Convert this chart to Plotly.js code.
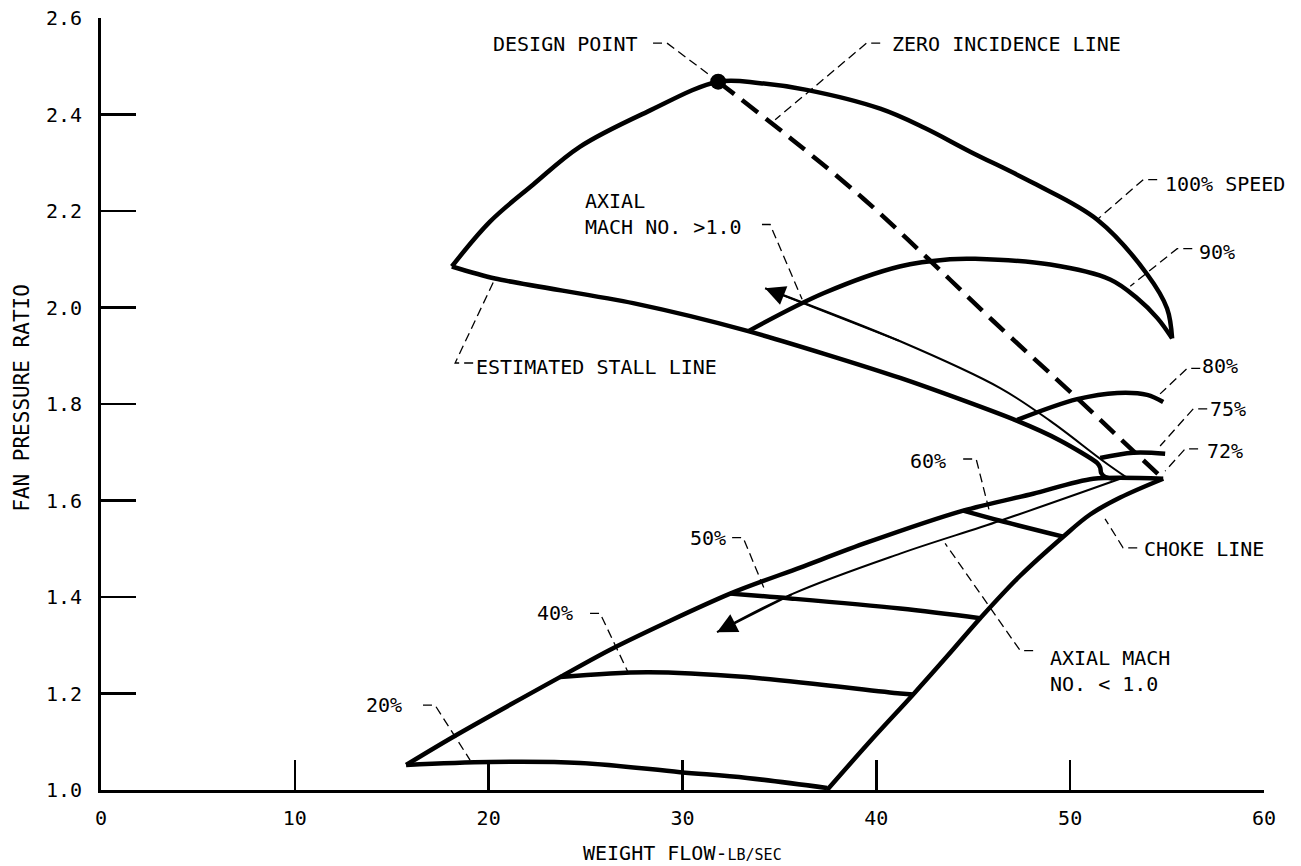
<!DOCTYPE html>
<html>
<head>
<meta charset="utf-8">
<script src="https://cdn.plot.ly/plotly-3.0.1.min.js"></script>
<style>html,body{margin:0;padding:0;background:#fff;}#chart{width:1301px;height:866px;}</style>
</head>
<body>
<div id="chart"></div>
<script>
// ---- Data (weight flow lb/sec, fan pressure ratio) ----
const speed100X = [18.1, 20.07, 22.3, 24.7, 28.2, 31.84, 34.0, 36.4, 40.2, 42.5, 44.84, 48.1, 51.4, 53.97, 55.0, 55.26];
const speed100Y = [2.085, 2.178, 2.255, 2.333, 2.406, 2.468, 2.465, 2.451, 2.412, 2.372, 2.323, 2.258, 2.182, 2.069, 1.998, 1.936];
const speed90X = [33.4, 37.3, 41.2, 43.8, 45.1, 48.97, 52.06, 53.46, 54.5, 55.26];
const speed90Y = [1.951, 2.03, 2.085, 2.10, 2.101, 2.089, 2.058, 2.019, 1.978, 1.936];
const speed80X = [47.27, 50.36, 52.43, 53.97, 54.8];
const speed80Y = [1.767, 1.81, 1.823, 1.819, 1.804];
const speed75X = [51.55, 53.25, 54.9];
const speed75Y = [1.688, 1.699, 1.697];
const stallHighX = [18.1, 20.33, 27.45, 33.39, 41.23, 47.27, 49.5, 51.39, 51.55, 51.6, 51.8, 52.2];
const stallHighY = [2.085, 2.06, 2.009, 1.951, 1.854, 1.765, 1.724, 1.678, 1.668, 1.657, 1.649, 1.645];
const stallLowX = [15.74, 18.16, 23.68, 26.42, 32.46, 36.07, 39.53, 44.48, 48.09, 51.19, 54.8];
const stallLowY = [1.052, 1.11, 1.234, 1.294, 1.407, 1.461, 1.513, 1.579, 1.614, 1.645, 1.645];
const chokeX = [54.8, 52.58, 51.03, 49.64, 47.42, 45.36, 43.65, 41.9, 39.68, 37.46];
const chokeY = [1.645, 1.606, 1.571, 1.525, 1.444, 1.356, 1.277, 1.198, 1.101, 1.0];
const speed60X = [44.48, 46.39, 49.64];
const speed60Y = [1.579, 1.558, 1.525];
const speed50X = [32.46, 35.56, 41.23, 45.36];
const speed50Y = [1.407, 1.397, 1.376, 1.356];
const speed40X = [23.68, 28.17, 33.3, 41.23, 41.9];
const speed40Y = [1.234, 1.244, 1.234, 1.2, 1.198];
const speed20X = [15.74, 20.07, 24.72, 29.88, 33.33, 37.46];
const speed20Y = [1.052, 1.058, 1.056, 1.037, 1.025, 1.004];
const zeroIncX = [31.84, 35.6, 39.32, 42.7, 46.03, 50.36, 53.25, 54.8];
const zeroIncY = [2.468, 2.35, 2.226, 2.1, 1.972, 1.812, 1.703, 1.645];
const machHighX = [52.94, 51.7, 48.97, 46.39, 41.23, 34.26];
const machHighY = [1.647, 1.682, 1.765, 1.833, 1.93, 2.04];
const machLowX = [52.58, 46.39, 41.23, 35.71, 31.78];
const machLowY = [1.645, 1.558, 1.49, 1.407, 1.327];
const designX = [31.84];
const designY = [2.468];
const tickX = [0, 10, 20, 30, 40, 50, 60];
const tickY = [1.0, 1.2, 1.4, 1.6, 1.8, 2.0, 2.2, 2.4, 2.6];
const tickYText = ['1.0', '1.2', '1.4', '1.6', '1.8', '2.0', '2.2', '2.4', '2.6'];

// leader lines (label -> curve)
const leadDesignX = [28.48, 29.2, 31.32], leadDesignY = [2.548, 2.548, 2.484];
const leadZeroX = [40.2, 39.5, 34.78], leadZeroY = [2.548, 2.548, 2.389];
const lead100X = [54.49, 53.77, 51.39], lead100Y = [2.265, 2.265, 2.182];
const lead90X = [56.3, 55.52, 53.1], lead90Y = [2.122, 2.122, 2.044];
const lead80X = [56.71, 56.04, 54.64], lead80Y = [1.874, 1.874, 1.821];
const lead75X = [57.07, 56.35, 54.64], lead75Y = [1.79, 1.79, 1.713];
const lead72X = [56.6, 55.93, 54.9], lead72Y = [1.707, 1.707, 1.661];
const leadChokeX = [53.46, 52.73, 51.8], leadChokeY = [1.502, 1.502, 1.562];
const leadMachLowX = [48.09, 47.42, 43.55], leadMachLowY = [1.289, 1.289, 1.511];
const leadMachHighX = [34.1, 34.52, 36.17], leadMachHighY = [2.172, 2.172, 2.017];
const leadStallX = [19.2, 18.27, 20.33], leadStallY = [1.885, 1.885, 2.06];
const lead60X = [44.48, 45.15, 45.85], lead60Y = [1.686, 1.686, 1.575];
const lead50X = [32.56, 33.13, 34.26], lead50Y = [1.523, 1.523, 1.413];
const lead40X = [25.23, 25.75, 27.19], lead40Y = [1.366, 1.366, 1.244];
const lead20X = [16.61, 17.23, 19.04], lead20Y = [1.176, 1.176, 1.062];

const FONT = 'DejaVu Sans Mono, Liberation Mono, monospace';
const thick = 4.5;

function line(x, y, w, dash, shape, smooth) {
  return {x: x, y: y, type: 'scatter', mode: 'lines', hoverinfo: 'skip', showlegend: false,
          line: {color: '#000', width: w, dash: dash || 'solid', shape: shape || 'spline',
                 smoothing: smooth === undefined ? 1 : smooth}};
}
const traces = [
  line(speed100X, speed100Y, thick),
  line(speed90X, speed90Y, thick),
  line(speed80X, speed80Y, thick),
  line(speed75X, speed75Y, thick),
  line(stallHighX, stallHighY, thick, 'solid', 'spline', 0.7),
  line(stallLowX, stallLowY, thick, 'solid', 'spline', 0.8),
  line(chokeX, chokeY, thick),
  line(speed60X, speed60Y, thick),
  line(speed50X, speed50Y, thick),
  line(speed40X, speed40Y, thick),
  line(speed20X, speed20Y, thick),
  line(zeroIncX, zeroIncY, thick, '20px,10px'),
  line(machHighX, machHighY, 2),
  line(machLowX, machLowY, 2),
];
const leaders = [
  [leadDesignX, leadDesignY], [leadZeroX, leadZeroY], [lead100X, lead100Y], [lead90X, lead90Y],
  [lead80X, lead80Y], [lead75X, lead75Y], [lead72X, lead72Y], [leadChokeX, leadChokeY],
  [leadMachLowX, leadMachLowY], [leadMachHighX, leadMachHighY], [leadStallX, leadStallY],
  [lead60X, lead60Y], [lead50X, lead50Y], [lead40X, lead40Y], [lead20X, lead20Y]
];
leaders.forEach(function (l) { traces.push(line(l[0], l[1], 1.3, '9px,5px', 'linear')); });
traces.push({x: designX, y: designY, type: 'scatter', mode: 'markers', hoverinfo: 'skip', showlegend: false,
             marker: {color: '#000', size: 16}});

function label(text, x, y, xanchor) {
  return {text: text, x: x, y: y, xref: 'x', yref: 'y', showarrow: false, xanchor: xanchor || 'left',
          yanchor: 'middle', align: 'left', font: {family: FONT, size: 20, color: '#000'}};
}
function arrow(xs, ys) {
  const n = xs.length;
  return {x: xs[n - 1], y: ys[n - 1], ax: xs[n - 2], ay: ys[n - 2], xref: 'x', yref: 'y', axref: 'x', ayref: 'y',
          text: '', showarrow: true, arrowhead: 2, arrowsize: 2, arrowwidth: 2, arrowcolor: '#000', standoff: 0};
}
const annotations = [
  label('DESIGN POINT', 27.81, 2.546, 'right'),
  label('ZERO INCIDENCE LINE', 40.71, 2.546),
  label('100% SPEED', 54.8, 2.257),
  label('90%', 56.55, 2.116),
  label('80%', 56.71, 1.879),
  label('75%', 57.12, 1.79),
  label('72%', 56.97, 1.703),
  label('CHOKE LINE', 53.72, 1.5),
  label('AXIAL MACH<br>NO. &lt; 1.0', 48.86, 1.246),
  label('60%', 43.7, 1.682, 'right'),
  label('50%', 32.35, 1.523, 'right'),
  label('40%', 24.46, 1.366, 'right'),
  label('20%', 15.63, 1.176, 'right'),
  label('AXIAL<br>MACH NO. &gt;1.0', 24.87, 2.193),
  label('ESTIMATED STALL LINE', 19.25, 1.876),
  arrow(machHighX, machHighY),
  arrow(machLowX, machLowY),
  {text: 'WEIGHT FLOW-<span style="font-size:15px">LB/SEC</span>', xref: 'paper', yref: 'paper', x: 0.5, y: -0.0816,
   showarrow: false, xanchor: 'center', yanchor: 'middle', font: {family: FONT, size: 20, color: '#000'}},
  {text: 'FAN PRESSURE RATIO', xref: 'paper', yref: 'paper', x: -0.068, y: 0.508, textangle: -90,
   showarrow: false, xanchor: 'center', yanchor: 'middle', font: {family: FONT, size: 21, color: '#000'}}
];

const layout = {
  width: 1301, height: 866,
  margin: {l: 101, r: 37, t: 18, b: 76},
  paper_bgcolor: '#fff', plot_bgcolor: '#fff',
  showlegend: false,
  xaxis: {range: [0, 60], tickvals: tickX, ticks: 'inside', ticklen: 30, tickwidth: 2.5, tickcolor: '#000',
          showline: true, linewidth: 3, linecolor: '#000', showgrid: false, zeroline: false,
          tickfont: {family: FONT, size: 20, color: '#000'}, ticklabelstandoff: 8, fixedrange: true},
  yaxis: {range: [1.0, 2.6], tickvals: tickY, ticktext: tickYText, ticks: 'inside', ticklen: 35, tickwidth: 2.5,
          tickcolor: '#000', showline: true, linewidth: 3, linecolor: '#000', showgrid: false, zeroline: false,
          tickfont: {family: FONT, size: 20, color: '#000'}, ticklabelstandoff: 12, fixedrange: true},
  annotations: annotations
};
Plotly.newPlot('chart', traces, layout, {staticPlot: true, displayModeBar: false});
</script>
</body>
</html>
